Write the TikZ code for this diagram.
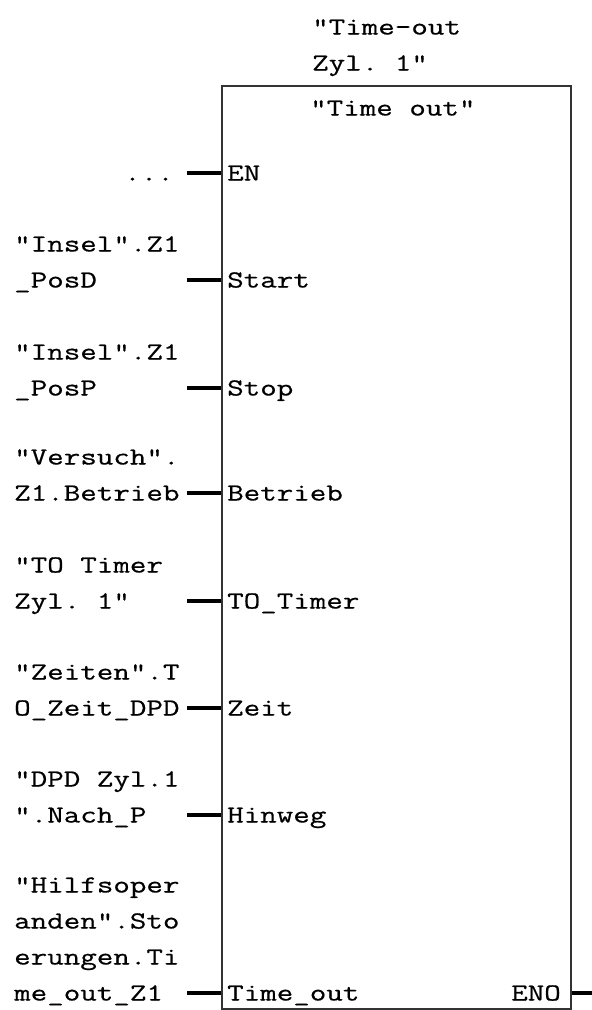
\documentclass[tikz,border=0pt]{standalone}
\usepackage{fontspec}
\setmonofont[FakeStretch=1.31,FakeBold=0.6]{Latin Modern Mono}
\begin{document}
\begin{tikzpicture}[x=1pt,y=-1pt,
  lbl/.style={font=\ttfamily\fontsize{24.5}{36}\selectfont, align=left, inner sep=0pt, anchor=base west},
  lblr/.style={font=\ttfamily\fontsize{24.5}{36}\selectfont, inner sep=0pt, anchor=base east},
  stub/.style={line width=4.5pt, black},
  fbox/.style={draw=black!80, line width=2pt, inner sep=0pt, anchor=north west}]
\useasboundingbox (0,0) rectangle (592,1010);

% function block
\node[fbox, minimum width=349.5pt, minimum height=923pt] (fb) at (220.5,85) {};
\node[lbl] (inst) at (312,70.5) {"Time-out\\Zyl. 1"};
\node[lbl] (title) at (310,115.5) {"Time out"};

% pin names
\node[lbl] (pEN)   at (227,180.5) {EN};
\node[lbl] (pStart) at (227,287.5) {Start};
\node[lbl] (pStop) at (227,395.5) {Stop};
\node[lbl] (pBetr) at (227,500.5) {Betrieb};
\node[lbl] (pTO)   at (227,608.5) {TO\_Timer};
\node[lbl] (pZeit) at (227,715.5) {Zeit};
\node[lbl] (pHin)  at (227,822.5) {Hinweg};
\node[lbl] (pTime) at (227,1000.5) {Time\_out};
\node[lblr] (pENO) at (561,1000.5) {ENO};

% operands
\node[lblr] (oEN) at (174,180.5) {...};
\node[lbl] (oStart) at (14,287.5) {"Insel".Z1\\\_PosD};
\node[lbl] (oStop)  at (14,395.5) {"Insel".Z1\\\_PosP};
\node[lbl] (oBetr)  at (14,500.5) {"Versuch".\\Z1.Betrieb};
\node[lbl] (oTO)    at (14,608.5) {"TO Timer\\Zyl. 1"};
\node[lbl] (oZeit)  at (14,715.5) {"Zeiten".T\\O\_Zeit\_DPD};
\node[lbl] (oHin)   at (14,822.5) {"DPD Zyl.1\\".Nach\_P};
\node[lbl] (oTime)  at (14,1000.5) {"Hilfsoper\\anden".Sto\\erungen.Ti\\me\_out\_Z1};

% stubs
\coordinate (cEN) at (187,173);
\coordinate (cStart) at (187,280);
\coordinate (cStop) at (187,388);
\coordinate (cBetr) at (187,493);
\coordinate (cTO) at (187,601);
\coordinate (cZeit) at (187,708);
\coordinate (cHin) at (187,815);
\coordinate (cTime) at (187,993);
\coordinate (cENO) at (592,993);
\foreach \c in {cEN,cStart,cStop,cBetr,cTO,cZeit,cHin,cTime}
  \draw[stub] (\c) -- (\c -| fb.west);
\draw[stub] (cENO -| fb.east) -- (cENO);
\end{tikzpicture}
\end{document}
